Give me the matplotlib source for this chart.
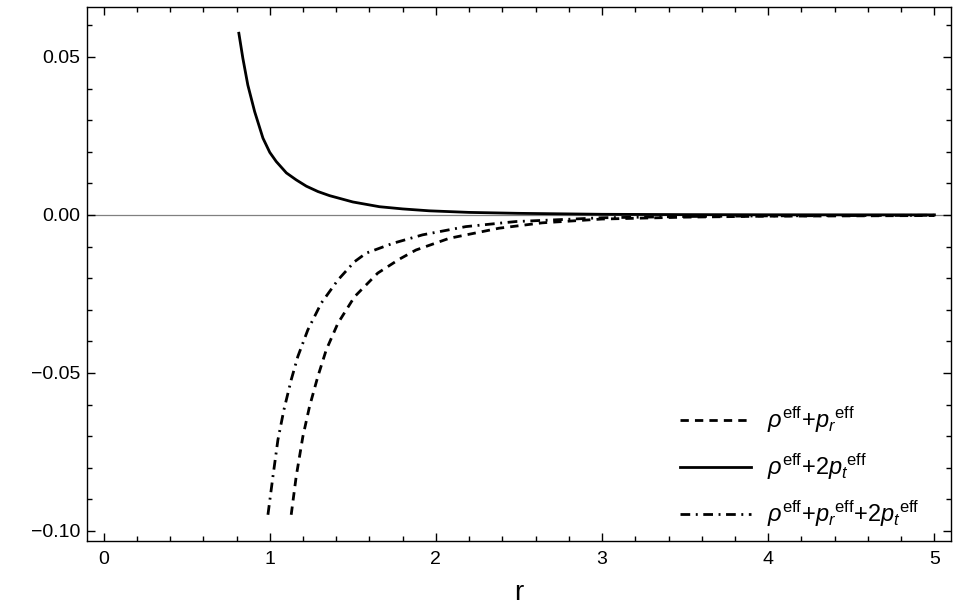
import numpy as np
import matplotlib
matplotlib.use('Agg')
import matplotlib.pyplot as plt
from matplotlib.ticker import MultipleLocator, FuncFormatter

plt.rcParams['font.family'] = ['Liberation Sans', 'DejaVu Sans']
plt.rcParams['mathtext.fontset'] = 'custom'
plt.rcParams['mathtext.rm'] = 'Liberation Sans'
plt.rcParams['mathtext.it'] = 'Liberation Sans:italic'

# rho + p_r  (dashed)
r_dash = [1.129, 1.159, 1.199, 1.239, 1.289, 1.34, 1.41, 1.51, 1.65, 1.78, 1.88,
          2.08, 2.38, 2.64, 3.0, 3.5, 4.0, 4.5, 5.0]
v_dash = [-0.0949, -0.0828, -0.0702, -0.0607, -0.0512, -0.0427, -0.0343, -0.0259,
          -0.0184, -0.0140, -0.0111, -0.0074, -0.0042, -0.0025, -0.0013, -0.0007,
          -0.0004, -0.0003, -0.0002]

# rho + 2 p_t  (solid)
r_solid = [0.814, 0.838, 0.868, 0.909, 0.959, 1.0, 1.039, 1.10, 1.159, 1.22, 1.29,
           1.36, 1.5, 1.66, 1.8, 1.96, 2.2, 2.5, 3.0, 3.5, 4.0, 4.5, 5.0]
v_solid = [0.0575, 0.0496, 0.0411, 0.0327, 0.0243, 0.0198, 0.0169, 0.0133, 0.0111,
           0.0091, 0.0074, 0.0061, 0.0041, 0.0026, 0.0019, 0.0013, 0.0008, 0.0005,
           0.0002, 0.0001, 0.00005, 0.00003, 0.00002]

# rho + p_r + 2 p_t  (dash-dot)
r_dd = [0.989, 1.019, 1.049, 1.085, 1.129, 1.169, 1.229, 1.31, 1.41, 1.51, 1.58,
        1.74, 1.92, 2.18, 2.48, 3.0, 3.5, 4.0, 4.5, 5.0]
v_dd = [-0.0949, -0.0828, -0.0712, -0.0617, -0.0522, -0.0448, -0.0364, -0.0279,
        -0.0206, -0.0148, -0.0121, -0.0090, -0.0063, -0.0037, -0.0021, -0.0009,
        -0.0005, -0.0003, -0.0002, -0.0001]

labels = [r'$\rho^{\mathrm{eff}}$+${p_r}^{\mathrm{eff}}$',
          r'$\rho^{\mathrm{eff}}$+2${p_t}^{\mathrm{eff}}$',
          r'$\rho^{\mathrm{eff}}$+${p_r}^{\mathrm{eff}}$+2${p_t}^{\mathrm{eff}}$']

fig = plt.figure(figsize=(9.59, 6.10), dpi=100)
ax = fig.add_axes([0.0907, 0.1131, 0.901, 0.8754])

ax.axhline(0, color='#808080', linewidth=0.9, zorder=1)
ax.plot(r_dash, v_dash, color='black', linewidth=2, dashes=(3, 2.2), label=labels[0])
ax.plot(r_solid, v_solid, color='black', linewidth=2, label=labels[1])
ax.plot(r_dd, v_dd, color='black', linewidth=2, dashes=(3.5, 2, 0.7, 2), label=labels[2])

ax.set_xlim(-0.1, 5.1)
ax.set_ylim(-0.1032, 0.0658)
ax.xaxis.set_major_locator(MultipleLocator(1))
ax.xaxis.set_minor_locator(MultipleLocator(0.2))
ax.yaxis.set_major_locator(MultipleLocator(0.05))
ax.yaxis.set_minor_locator(MultipleLocator(0.01))
ax.yaxis.set_major_formatter(FuncFormatter(lambda v, p: ('%.2f' % v).replace('-', '\u2212')))
ax.tick_params(which='both', direction='in', top=True, right=True, labelsize=14, width=1)
ax.tick_params(which='major', length=6)
ax.tick_params(which='minor', length=3.5)
ax.tick_params(axis='x', pad=7)
ax.tick_params(axis='y', pad=5)
for s in ax.spines.values():
    s.set_linewidth(1)

ax.set_xlabel('r', fontsize=20, labelpad=9)

ax.legend(loc='upper left', bbox_to_anchor=(0.686, 0.255), frameon=False, fontsize=17,
          handlelength=3.0, handletextpad=0.7, labelspacing=0.72, borderpad=0,
          borderaxespad=0)

fig.savefig('out.png', dpi=100)
